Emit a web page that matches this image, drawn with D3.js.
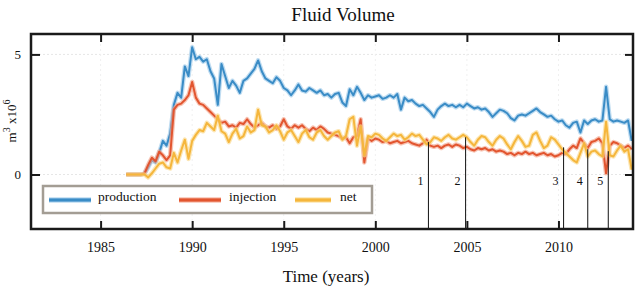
<!DOCTYPE html>
<html>
<head>
<meta charset="utf-8">
<script src="https://cdn.jsdelivr.net/npm/d3@7"></script>
<style>
  body { margin: 0; background: #fff; }
  svg { display: block; font-family: "Liberation Serif", "Times New Roman", serif; }
</style>
</head>
<body>
<svg id="chart" width="640" height="287"></svg>
<script>
const startYear = 1986.4, stepYears = 0.2;

// fluid volume, m3 x 10^6
const production = [
  0, 0, 0, 0, 0, 0.05, 0.3, 0.6, 0.5, 0.9,
  1.4, 1.2, 1.7, 2.9, 3.4, 3.2, 4.5, 4.1, 5.3, 4.8,
  4.9, 4.7, 4.8, 4.3, 4.0, 2.9, 4.6, 4.1, 3.6, 3.9,
  3.7, 3.4, 3.9, 4.0, 4.2, 4.4, 4.75, 4.3, 4.0, 3.9,
  3.8, 4.05, 3.9, 3.6, 3.5, 3.3, 3.5, 3.75, 3.5, 3.45,
  3.6, 3.5, 3.4, 3.5, 3.3, 3.35, 3.2, 3.35, 3.4, 3.0,
  2.85, 3.55, 3.3, 3.65, 3.4, 3.1, 3.3, 3.2, 3.25, 3.3,
  3.15, 3.2, 3.3, 3.2, 3.35, 2.7, 3.2, 3.05, 3.1, 2.95,
  2.85, 2.9, 2.75, 2.6, 2.4, 2.7, 2.85, 2.95, 2.85, 2.9,
  2.8, 2.9, 2.8, 2.95, 2.85, 2.75, 2.8, 2.7, 2.75, 2.6,
  2.4, 2.55, 2.7, 2.65, 2.55, 2.35, 2.25, 2.45, 2.5, 2.45,
  2.55, 2.65, 2.75, 2.6, 2.5, 2.4, 2.45, 2.3, 2.2, 2.25,
  2.05, 1.95, 2.15, 2.2, 1.75, 2.25, 2.1, 2.25, 2.3, 2.2,
  2.25, 3.65, 2.3, 2.2, 2.25, 2.2, 2.15, 2.25, 1.4
];
const injection = [
  0, 0, 0, 0, 0, 0.05, 0.4, 0.7, 0.55, 0.95,
  0.8, 0.6, 0.8, 2.7, 2.9, 2.95, 3.1, 3.3, 3.85, 3.2,
  2.95, 2.9, 2.75, 2.6, 2.45, 2.3, 2.15, 2.2, 2.0, 2.05,
  1.95, 2.15, 2.1, 2.3, 2.1, 1.95, 2.05, 2.15, 2.0, 1.95,
  2.05, 1.9, 2.0, 2.3, 2.0, 1.9, 2.05, 1.95, 2.05, 1.9,
  1.8, 1.95, 1.85, 2.0, 1.9, 1.75, 1.7, 1.65, 1.6, 1.5,
  1.55, 1.3, 1.55, 1.6, 2.3, 0.5, 1.5, 1.4, 1.5, 1.45,
  1.35, 1.4, 1.3, 1.35, 1.4, 1.3, 1.35, 1.4, 1.3, 1.25,
  1.2, 1.3, 1.45, 1.2, 1.15, 1.2, 1.1, 1.2, 1.25, 1.15,
  1.25, 1.2, 1.1, 1.15, 1.05, 1.0, 1.1, 1.05, 1.1, 1.0,
  1.05, 0.95, 1.0, 0.95, 0.85, 0.9, 0.8, 0.9, 0.85, 0.95,
  0.85, 0.9, 0.8, 0.85, 0.9, 0.8, 0.85, 0.75, 0.8, 0.9,
  0.85, 1.05, 1.2, 1.1, 1.5, 1.3, 1.1, 1.35, 1.4, 1.5,
  1.3, 0.05, 1.2, 1.35, 1.3, 1.2, 1.1, 1.2, 1.05
];
const net = [
  0, 0, 0, 0, 0, 0, -0.12, 0.05, 0.25, 0.45,
  0.5, 0.3, 0.25, 0.9, 0.5, 1.0, 1.45, 0.65, 1.4, 1.65,
  1.85, 1.8, 2.15, 2.0, 1.85, 2.45, 1.8, 1.7, 1.35, 1.7,
  1.9, 1.5, 1.6, 2.0, 1.75, 1.85, 2.7, 2.05, 2.0, 1.75,
  1.85, 2.05, 1.8, 1.45, 1.75, 1.85, 1.6, 1.35, 1.7, 1.85,
  1.55, 1.45, 1.75, 1.85, 1.6, 1.45, 1.6, 1.75, 1.8, 1.45,
  1.6, 2.3, 2.4, 1.2, 2.0, 0.8, 1.6, 1.55, 1.7, 1.65,
  1.5, 1.4, 1.55, 1.7, 1.6, 1.65, 1.45, 1.55, 1.7, 1.6,
  1.65, 1.45, 1.25, 1.35, 1.55, 1.5, 1.4, 1.55, 1.65, 1.5,
  1.45, 1.55, 1.65, 1.55, 1.35, 1.2, 1.45, 1.6, 1.55, 1.35,
  1.2, 1.45, 1.6, 1.5, 1.25, 1.05, 1.35, 1.6, 1.4, 1.15,
  1.2, 1.65, 1.75, 1.4, 1.1, 1.2, 1.55, 1.45, 1.25, 1.05,
  0.9, 0.75, 0.6, 0.5, 0.9, 1.3, 0.75, 0.95, 1.0, 0.85,
  0.75, 2.2, 0.8, 0.75, 1.0, 1.2, 0.95, 1.05, 0.2
];

const seriesNames = ["production", "injection", "net"];
const seriesColors = ["#3a8cc6", "#e2552f", "#f5b63c"];
const haloColors = ["#9cc9ea", "#f3a48c", "#fad98c"];

const xTicks = [1985, 1990, 1995, 2000, 2005, 2010];
const yTicks = [0, 5];

// numbered event markers
const eventYears = [2002.9, 2004.93, 2010.28, 2011.6, 2012.72];
const eventTops = [1.35, 1.55, 1.13, 1.05, 0.97];
const eventLabels = ["1", "2", "3", "4", "5"];

const W = 640, H = 287;
const margin = { top: 34, right: 7, bottom: 58, left: 31 };
const iw = W - margin.left - margin.right;
const ih = H - margin.top - margin.bottom;

const svg = d3.select("#chart");

const x = d3.scaleLinear().domain([1981.2, 2014.07]).range([0, iw]);
const y = d3.scaleLinear().domain([-2.27, 5.85]).range([ih, 0]);

const g = svg.append("g").attr("transform", `translate(${margin.left},${margin.top})`);

// faint dotted guide lines
g.append("g").selectAll("line.gy").data(yTicks).enter().append("line")
  .attr("x1", 0).attr("x2", iw).attr("y1", d => y(d)).attr("y2", d => y(d))
  .attr("stroke", "#e6e6e6").attr("stroke-dasharray", "2,2");
g.append("g").selectAll("line.gx").data(xTicks).enter().append("line")
  .attr("y1", 0).attr("y2", ih).attr("x1", d => x(d)).attr("x2", d => x(d))
  .attr("stroke", "#f0f0f0").attr("stroke-dasharray", "2,3");

const seriesData = [production, injection, net];
const line = d3.line()
  .x((d, i) => x(startYear + i * stepYears))
  .y(d => y(d));

g.append("clipPath").attr("id", "clip").append("rect").attr("width", iw).attr("height", ih);
const plot = g.append("g").attr("clip-path", "url(#clip)");

seriesData.forEach((vals, k) => {
  plot.append("path").datum(vals)
    .attr("fill", "none")
    .attr("stroke", haloColors[k])
    .attr("stroke-width", 4.5)
    .attr("stroke-opacity", 0.65)
    .attr("stroke-linejoin", "round")
    .attr("d", line);
  plot.append("path").datum(vals)
    .attr("fill", "none")
    .attr("stroke", seriesColors[k])
    .attr("stroke-width", 2)
    .attr("stroke-linejoin", "round")
    .attr("d", line);
});

// event markers
const ev = g.append("g").selectAll("g").data(eventYears).enter().append("g");
ev.append("line")
  .attr("x1", d => x(d)).attr("x2", d => x(d))
  .attr("y1", (d, i) => y(eventTops[i])).attr("y2", ih)
  .attr("stroke", "#111").attr("stroke-width", 1);
ev.append("text")
  .attr("x", d => x(d) - 5)
  .attr("y", y(-0.45))
  .attr("text-anchor", "end")
  .attr("font-size", 12)
  .attr("fill", "#111")
  .text((d, i) => eventLabels[i]);

// axes, ticks pointing inward
const bottomAxis = g.append("g").attr("transform", `translate(0,${ih})`)
  .call(d3.axisBottom(x).tickValues(xTicks).tickFormat(d3.format("d")).tickSize(-8).tickPadding(13));
const topAxis = g.append("g")
  .call(d3.axisTop(x).tickValues(xTicks).tickFormat("").tickSize(-8));
const leftAxis = g.append("g")
  .call(d3.axisLeft(y).tickValues(yTicks).tickFormat(d3.format("d")).tickSize(-9).tickPadding(10));
const rightAxis = g.append("g").attr("transform", `translate(${iw},0)`)
  .call(d3.axisRight(y).tickValues(yTicks).tickFormat("").tickSize(-8));

[bottomAxis, topAxis, leftAxis, rightAxis].forEach(a => {
  a.select(".domain").remove();
  a.selectAll(".tick line").attr("stroke", "#1a1a1a").attr("stroke-width", 2);
  a.selectAll(".tick text").attr("fill", "#111")
    .style("font-family", "'Liberation Serif', serif");
});
bottomAxis.selectAll(".tick text").attr("font-size", 14);
leftAxis.selectAll(".tick text").attr("font-size", 13);

// frame
g.append("rect")
  .attr("width", iw).attr("height", ih)
  .attr("fill", "none").attr("stroke", "#1a1a1a").attr("stroke-width", 2.5);

// legend
const legend = g.append("g").attr("transform", `translate(${43 - margin.left},${186 - margin.top})`);
legend.append("rect")
  .attr("width", 329).attr("height", 27)
  .attr("fill", "#fff").attr("stroke", "#a39d94").attr("stroke-width", 2.5);
const legendX = [6, 136, 252];
const legendLen = [42, 42, 36];
const legendTextX = [55, 186, 297];
seriesNames.forEach((name, k) => {
  legend.append("line")
    .attr("x1", legendX[k]).attr("x2", legendX[k] + legendLen[k])
    .attr("y1", 14).attr("y2", 14)
    .attr("stroke", haloColors[k]).attr("stroke-width", 5);
  legend.append("line")
    .attr("x1", legendX[k]).attr("x2", legendX[k] + legendLen[k])
    .attr("y1", 14).attr("y2", 14)
    .attr("stroke", seriesColors[k]).attr("stroke-width", 3);
  legend.append("text")
    .attr("x", legendTextX[k]).attr("y", 15)
    .attr("font-size", 13.5).attr("fill", "#111")
    .text(name);
});

// titles
svg.append("text")
  .attr("x", 343).attr("y", 21)
  .attr("text-anchor", "middle")
  .attr("font-size", 19).attr("fill", "#111")
  .text("Fluid Volume");

svg.append("text")
  .attr("x", 326).attr("y", 282)
  .attr("text-anchor", "middle")
  .attr("font-size", 17).attr("fill", "#111")
  .text("Time (years)");

const yl = svg.append("text")
  .attr("transform", "translate(16,121) rotate(-90)")
  .attr("text-anchor", "middle")
  .attr("font-size", 13).attr("fill", "#111");
yl.append("tspan").text("m");
yl.append("tspan").attr("dy", -6).attr("font-size", 10).text("3");
yl.append("tspan").attr("dy", 6).text(" x10");
yl.append("tspan").attr("dy", -6).attr("font-size", 10).text("6");
</script>
</body>
</html>
